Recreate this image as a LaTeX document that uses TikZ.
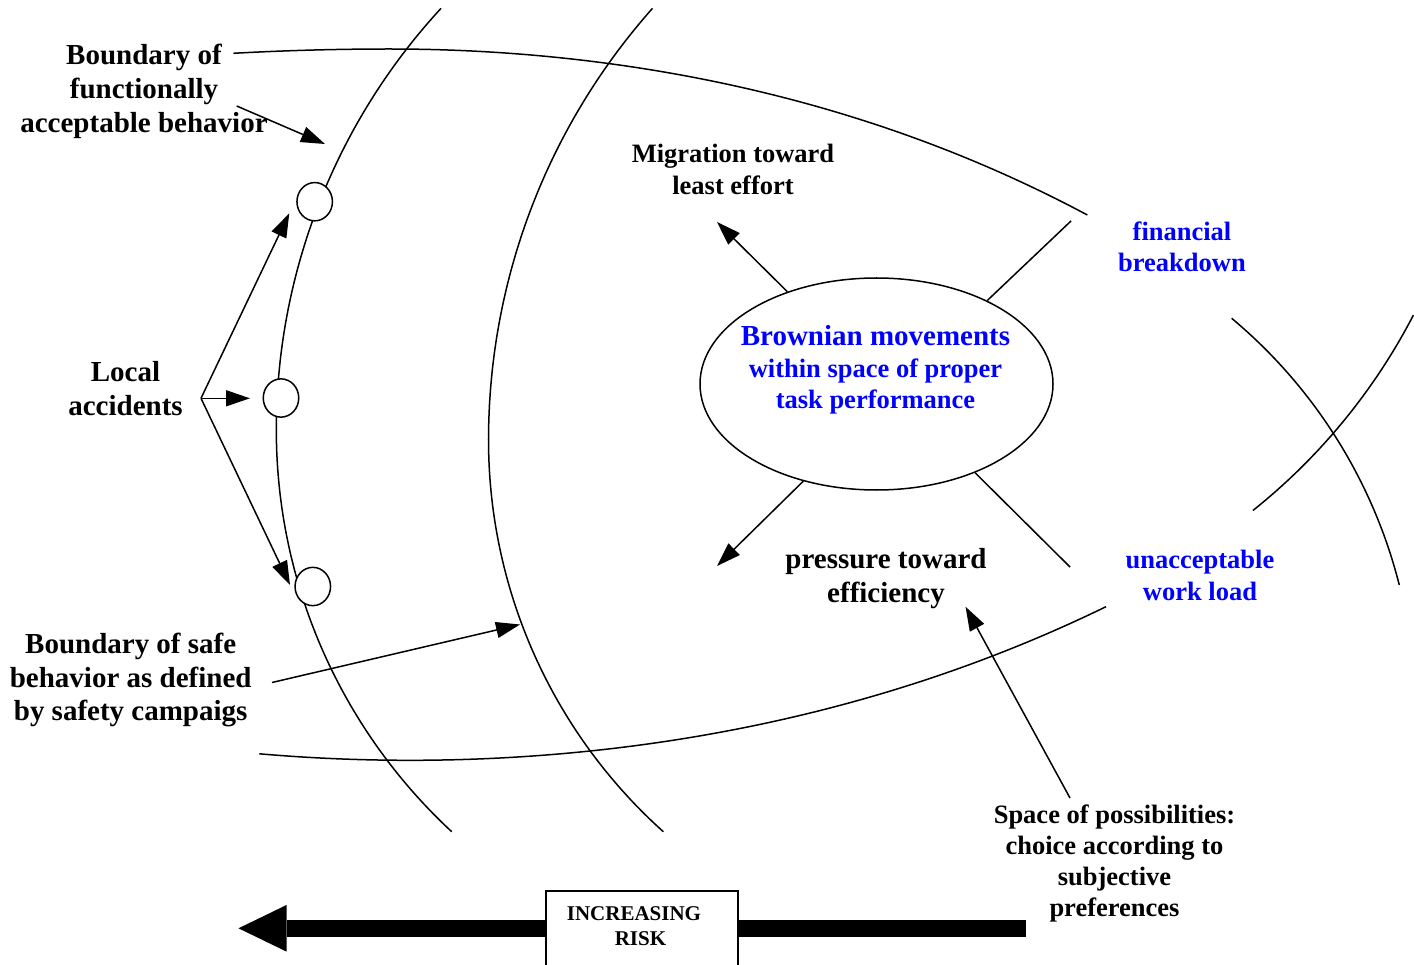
\documentclass[tikz,border=0pt]{standalone}
\usepackage{fontspec}
\setmainfont{Liberation Serif}
\usetikzlibrary{shapes.geometric,arrows.meta}
\definecolor{tblue}{RGB}{0,0,255}
\begin{document}
\begin{tikzpicture}[x=1pt,y=-1pt,
  curve/.style={line width=1.5pt},
  arr/.style={line width=1.5pt,-{Triangle[length=24pt,width=16pt]}},
  lbl/.style={inner sep=0pt,align=center,font=\bfseries\fontsize{29}{34}\selectfont},
  lbls/.style={inner sep=0pt,align=center,font=\bfseries\fontsize{26.5}{31.5}\selectfont},
  acc/.style={draw,ellipse,fill=white,line width=1.5pt,minimum width=35.5pt,minimum height=38.3pt,inner sep=0pt}]
\useasboundingbox (0,0) rectangle (1414,965);

% upper and lower boundary curves
\draw[curve] plot[domain=233.3:390,samples=40] (\x,{49+1.75*((\x-390)/100)^2})
  -- plot[domain=390:1087.3,samples=90] (\x,{49+3.0*((\x-390)/100)^2+0.0085*((\x-390)/100)^4});
\draw[curve] plot[domain=259.3:1106,samples=110] (\x,{760.3-2.848*((\x-410)/100)^2-0.00667*((\x-410)/100)^4});
% boundary of functionally acceptable behaviour
\draw[curve] plot[domain=222.67:180,samples=70] ({898.5+622.2*cos(\x)},{430+622.2*sin(\x)})
  -- plot[domain=180:132.82,samples=70] ({824+547.7*cos(\x)},{430+547.7*sin(\x)});
% boundary of safe behaviour
\draw[curve] plot[domain=221.6:180,samples=70] ({1138.7+650.2*cos(\x)},{440+650.2*sin(\x)})
  -- plot[domain=180:131.9,samples=70] ({1014.8+526.3*cos(\x)},{440+526.3*sin(\x)});
% right-hand arcs
\draw[curve] plot[domain=-50.1:-14.2,samples=50] ({903.9+511*cos(\x)},{710.3+511*sin(\x)});
\draw[curve] plot[domain=27.4:51.4,samples=50] ({873.7+607.9*cos(\x)},{35.4+607.9*sin(\x)});

% local accident circles
\node[acc] (acc1) at (314.7,201.7) {};
\node[acc] (acc2) at (281,398) {};
\node[acc] (acc3) at (312.8,586.5) {};

% labels
\node[lbl] (bfab) at (144,91.5) {Boundary of\\functionally\\acceptable behavior};
\node[lbl] (local) at (125.5,389) {Local\\accidents};
\node[lbls,font=\bfseries\fontsize{26.5}{31.6}\selectfont] (migr) at (733,169.5) {Migration toward\\least effort};
\node[lbls,text=tblue,font=\bfseries\fontsize{26.5}{31}\selectfont] (fin) at (1182,247) {financial\\breakdown};
\node[lbls,text=tblue,font=\bfseries\fontsize{26.5}{31.6}\selectfont] (unacc) at (1200,575.5) {unacceptable\\work load};
\node[lbl] (press) at (886,578.5) {pressure toward\\efficiency};
\node[lbl,font=\bfseries\fontsize{29}{33.3}\selectfont] (bsafe) at (130.7,680) {Boundary of safe\\behavior as defined\\by safety campaigs};
\node[lbls,font=\bfseries\fontsize{26.5}{31}\selectfont] (space) at (1114.5,863) {Space of possibilities:\\choice according to\\subjective\\preferences};

% central ellipse
\node[draw,ellipse,line width=1.5pt,minimum width=353pt,minimum height=212pt,inner sep=0pt] (brownell) at (876.5,384) {};
\node[lbls,text=tblue] (browntxt) at (875.5,370) {{\fontsize{29}{31.5}\selectfont Brownian movements}\\within space of proper\\task performance};

% connector end points
\coordinate (bfas) at (236.7,106);
\coordinate (bfat) at (325,144);
\coordinate (lav) at (201,398.3);
\coordinate (lat1) at (289.3,213.3);
\coordinate (lat2) at (250,398.3);
\coordinate (lat3) at (290,585);
\coordinate (bss) at (272,682.5);
\coordinate (bst) at (520,624.5);
\coordinate (sps) at (1070,798);
\coordinate (spt) at (965.5,606.7);
\coordinate (migt) at (717,222);
\coordinate (prst) at (717,566);
\coordinate (fine) at (1071,221);
\coordinate (unae) at (1070,567);

% arrows
\draw[arr] (bfas) -- (bfat);
\draw[arr] (lav) -- (lat1);
\draw[arr] (lav) -- (lat2);
\draw[arr] (lav) -- (lat3);
\draw[arr] (bss) -- (bst);
\draw[arr] (sps) -- (spt);
\draw[arr] (brownell.134) -- (migt);
\draw[arr] (brownell.233) -- (prst);
\draw[curve] (brownell.37) -- (fine);
\draw[curve] (brownell.318) -- (unae);

% increasing risk arrow
\coordinate (rtail) at (1025.8,928.3);
\coordinate (rtip) at (238.5,928.3);
\draw[line width=16.6pt] (rtail) -- ([xshift=48pt]rtip);
\fill (rtip) -- ++(48,-23.3) -- ++(0,46.6) -- cycle;
\node[draw,fill=white,line width=1.5pt,minimum width=192pt,minimum height=90pt,inner sep=0pt,anchor=north west] (riskbox) at (545,890) {};
\node[inner sep=0pt,align=center,font=\bfseries\fontsize{21}{25}\selectfont] (risktxt) at (634,926.5) {INCREASING\\\hspace*{13pt}RISK};
\end{tikzpicture}
\end{document}
